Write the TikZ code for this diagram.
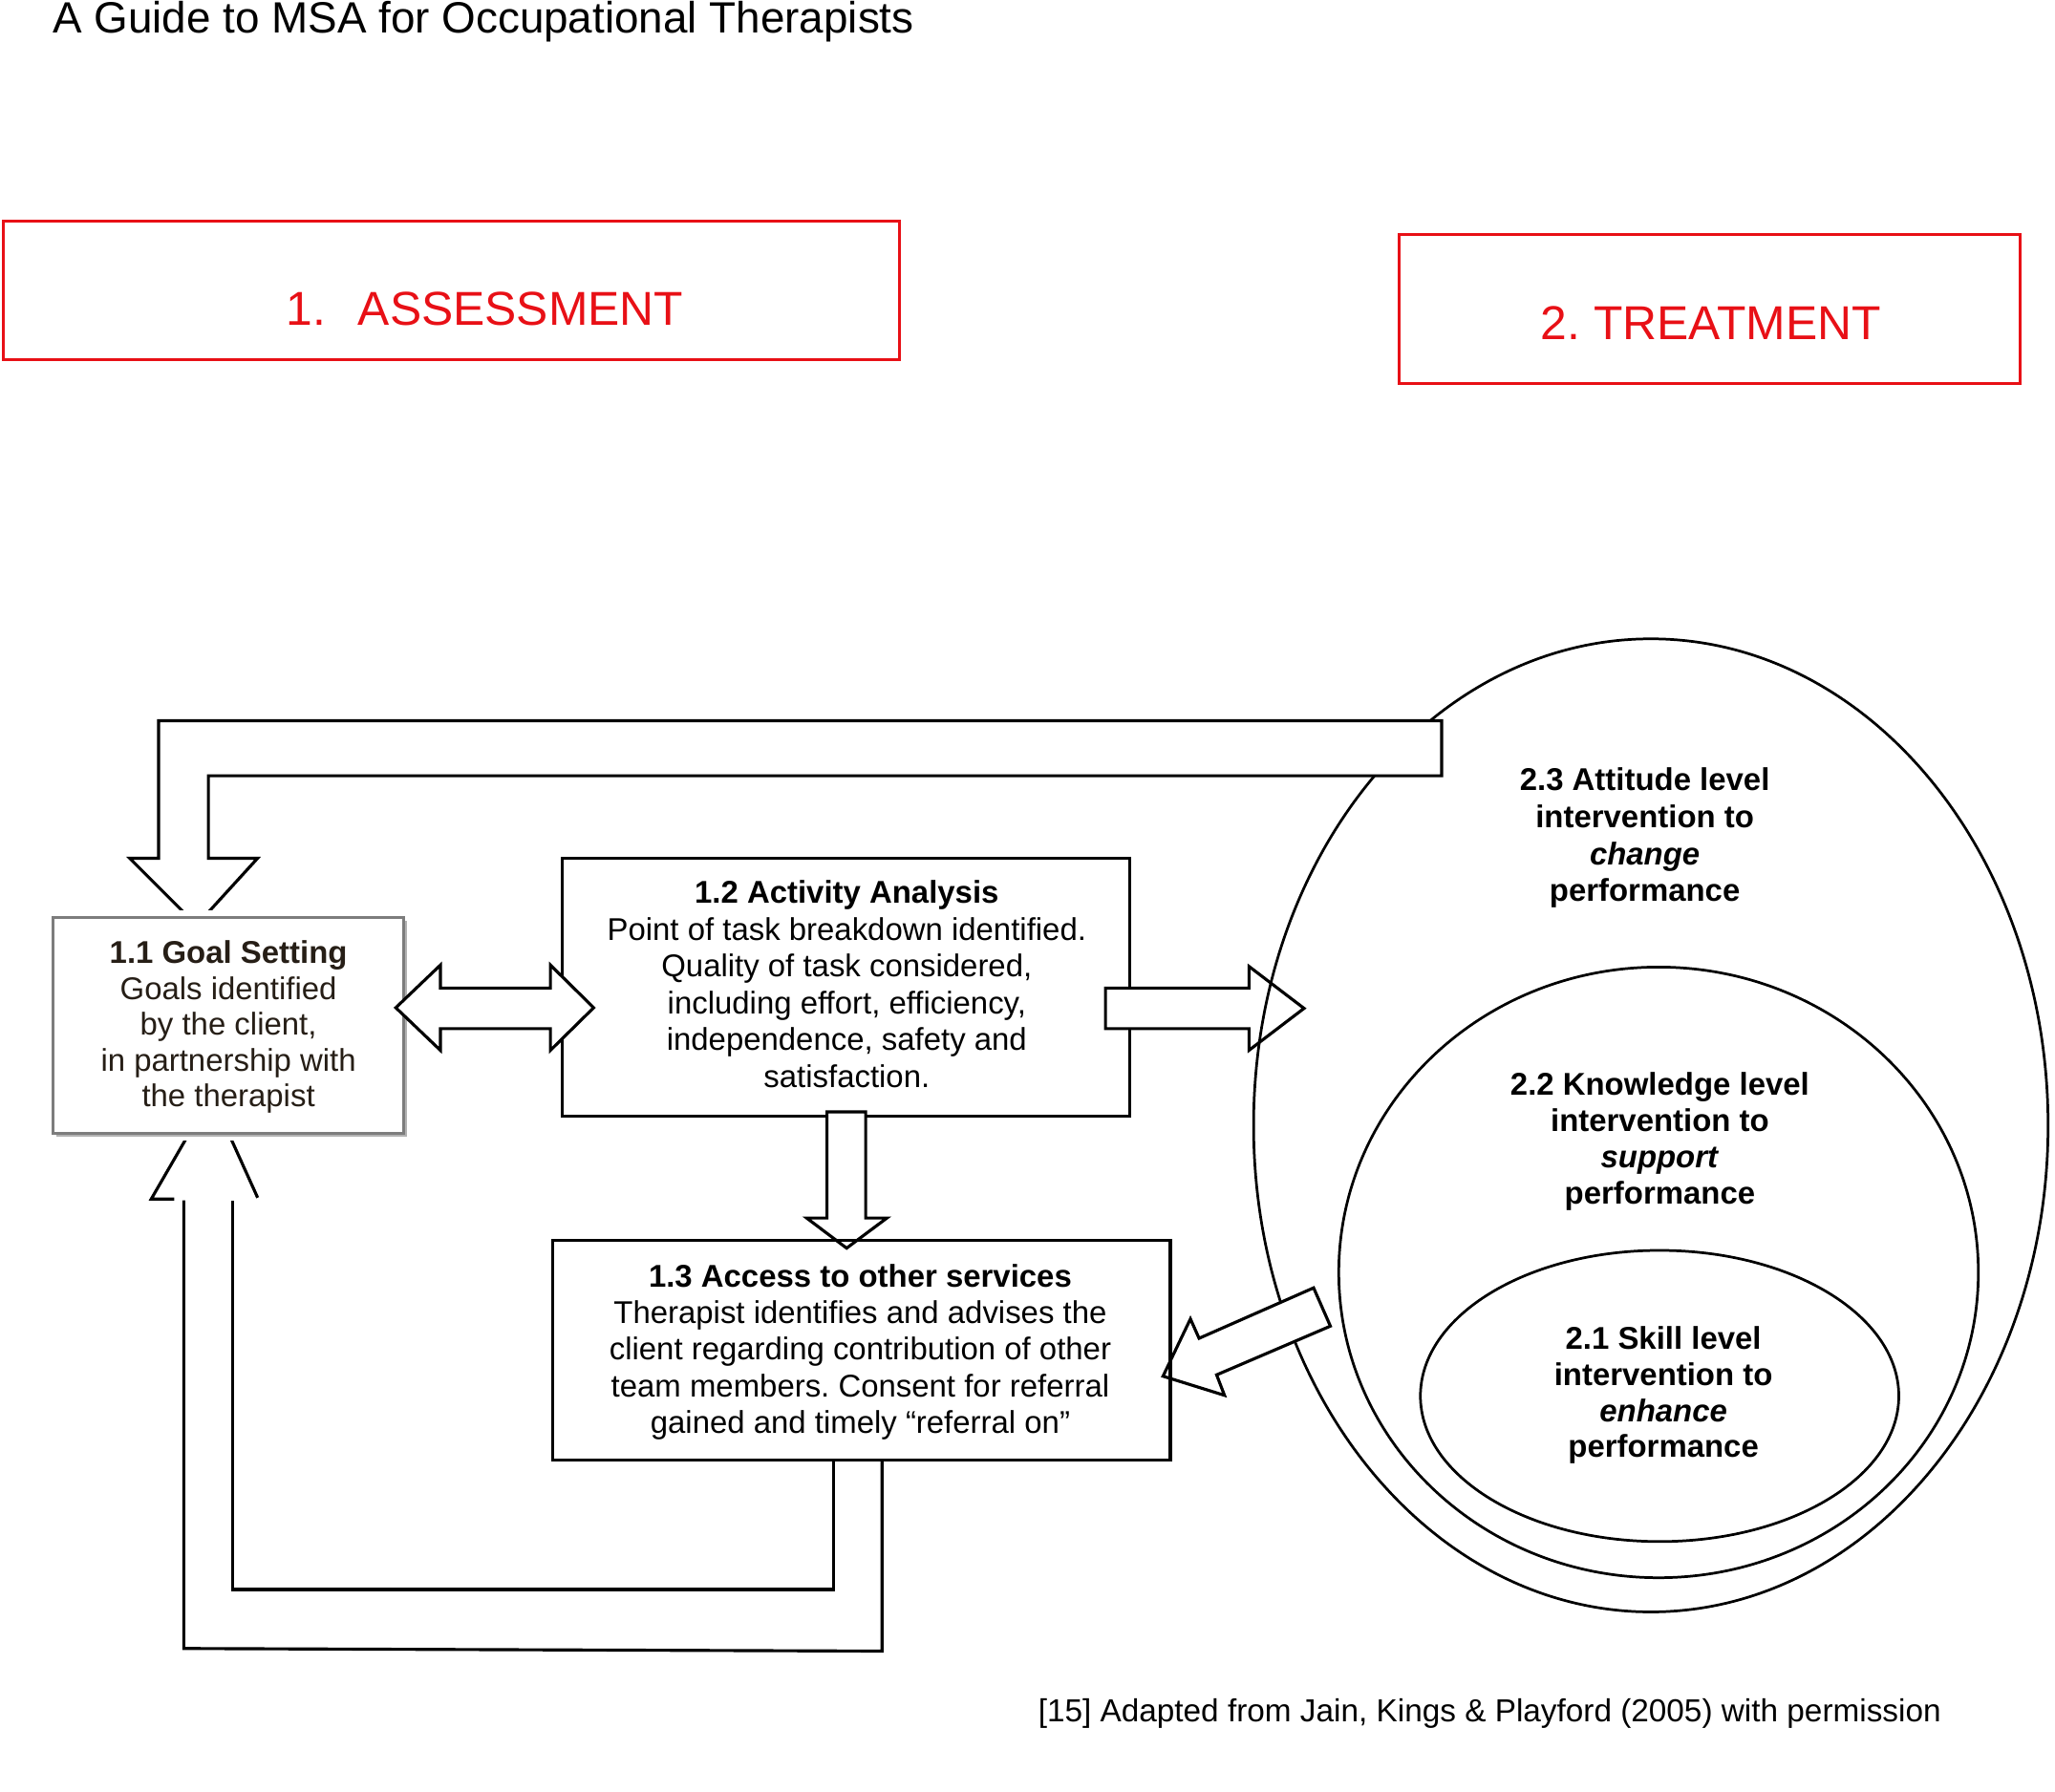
\documentclass[tikz,border=0pt]{standalone}
\usepackage{fontspec}
\setmainfont{Liberation Sans}
\usetikzlibrary{shapes.geometric}
\definecolor{msared}{RGB}{232,16,22}
\definecolor{goalgray}{RGB}{125,125,125}
\definecolor{goalink}{RGB}{38,30,22}
\newcommand{\myfs}[2]{\fontsize{#1}{#2}\selectfont}
\newcommand{\firstln}{\rule{0pt}{22pt}}
\frenchspacing
\begin{document}
\begin{tikzpicture}[x=1pt,y=-1pt,line join=miter,
  blk/.style={draw=black,line width=2.3pt},
  blockarrow/.style={draw=black,fill=white,line width=2.3pt,line join=miter},
  ell/.style={ellipse,draw=black,line width=2pt,inner sep=0pt},
  redbox/.style={draw=msared,line width=2.2pt,inner sep=0pt},
  stagebox/.style={draw=black,line width=2.3pt,inner sep=0pt},
  body/.style={font=\myfs{24}{28.1},align=center,inner sep=0pt,anchor=north},
  redtext/.style={font=\myfs{36.3}{40},text=msared,inner sep=0pt}]
\useasboundingbox (0,0) rectangle (1568,1367.5);

% box 1.2 (under the arrow into the ellipse)
\node[stagebox,fill=white,minimum width=433.1pt,minimum height=196.8pt] (b12) at (645.65,753.3) {};
% arrow 1.2 -> treatment
\draw[blockarrow] (843.5,754) -- (953,754) -- (953,737.5) -- (995,769.5) -- (953,801.5) -- (953,785) -- (843.5,785) -- cycle;

% treatment ellipses
\node[ell,minimum width=606.2pt,minimum height=742.6pt] (e23) at (1259.6,858.8) {};
\node[ell,minimum width=488pt,minimum height=466pt] (e22) at (1265.5,971) {};
\node[ell,minimum width=365pt,minimum height=222.2pt] (e21) at (1266.3,1065.3) {};

% feedback arrow along the top (treatment -> goal setting)
\fill[white] (121,550) rectangle (1100,592);
\draw[blockarrow] (99,655) -- (121,655) -- (121,550) -- (1100,550) -- (1100,592) -- (159,592) -- (159,655) -- (196.5,655) -- (150,706) -- cycle;

% feedback loop from 1.3 back to goal setting
\draw[blk] (636,1114) -- (636,1213) -- (177.6,1213) -- (177.6,916);
\draw[blk] (673,1114) -- (673,1260) -- (140.2,1258) -- (140.2,916);
\draw[blk] (133,915) -- (115.4,915) -- (161.2,835.7) -- (196.6,914);

% box 1.1
\fill[white] (34.8,694.5) rectangle (313.5,870.5);
\fill[black!30] (43.3,703) rectangle (310.5,867.5);
\node[draw=goalgray,fill=white,line width=1.8pt,inner sep=0pt,minimum width=267.7pt,minimum height=165pt] (b11) at (174.15,782.5) {};

% arrows between stages
\draw[blockarrow] (302,769) -- (336,736.5) -- (336,754) -- (420,754) -- (420,736.5) -- (453,769) -- (420,801.5) -- (420,785) -- (336,785) -- (336,801.5) -- cycle;
\draw[blockarrow] (631,848.5) -- (660.5,848.5) -- (660.5,929.5) -- (676.7,929.5) -- (646,952.5) -- (615.5,929.5) -- (631,929.5) -- cycle;
\draw[blockarrow] (1002.3,982.8) -- (1015.1,1012) -- (928.3,1049.2) -- (934.3,1064.8) -- (887.4,1050.2) -- (908.3,1006.5) -- (914.9,1021.3) -- cycle;

% box 1.3
\node[stagebox,minimum width=471.1pt,minimum height=167.5pt] (b13) at (657.45,1030.25) {};

% headings
\node[redbox,minimum width=683.8pt,minimum height=106.2pt] (ra) at (344.1,221.5) {};
\node[redbox,minimum width=473.8pt,minimum height=113.7pt] (rt) at (1304.7,235.95) {};
\node[redtext,anchor=base west] (ta) at (218,248) {1.\hspace{24.8pt}ASSESSMENT};
\node[redtext,anchor=base] (tt) at (1305.5,259.5) {2. TREATMENT};

\node[font=\myfs{33.4}{40},anchor=base west,inner sep=0pt] (title) at (40,25.5) {A Guide to MSA for Occupational Therapists};

% texts
\node[body,font=\myfs{24}{27.4},text=goalink] (t11) at (174.3,713) {\firstln\textbf{1.1 Goal Setting}\\Goals identified\\by the client,\\in partnership with\\the therapist};
\node[body] (t12) at (646.1,667.2) {\firstln\textbf{1.2 Activity Analysis}\\Point of task breakdown identified.\\Quality of task considered,\\including effort, efficiency,\\independence, safety and\\satisfaction.};
\node[body,font=\myfs{24}{27.9}] (t13) at (656.4,960) {\firstln\textbf{1.3 Access to other services}\\Therapist identifies and advises the\\client regarding contribution of other\\team members. Consent for referral\\gained and timely “referral on”};
\node[body,font=\bfseries\myfs{24}{28.3}] (t23) at (1255,581) {\firstln 2.3 Attitude level\\intervention to\\\textit{change}\\performance};
\node[body,font=\bfseries\myfs{24}{27.7}] (t22) at (1266.5,813.6) {\firstln 2.2 Knowledge level\\intervention to\\\textit{support}\\performance};
\node[body,font=\bfseries\myfs{24}{27.6}] (t21) at (1269.2,1007.3) {\firstln 2.1 Skill level\\intervention to\\\textit{enhance}\\performance};

\node[font=\myfs{24.3}{28},anchor=base west,inner sep=0pt] (foot) at (792,1314) {[15] Adapted from Jain, Kings \& Playford (2005) with permission};
\end{tikzpicture}
\end{document}
